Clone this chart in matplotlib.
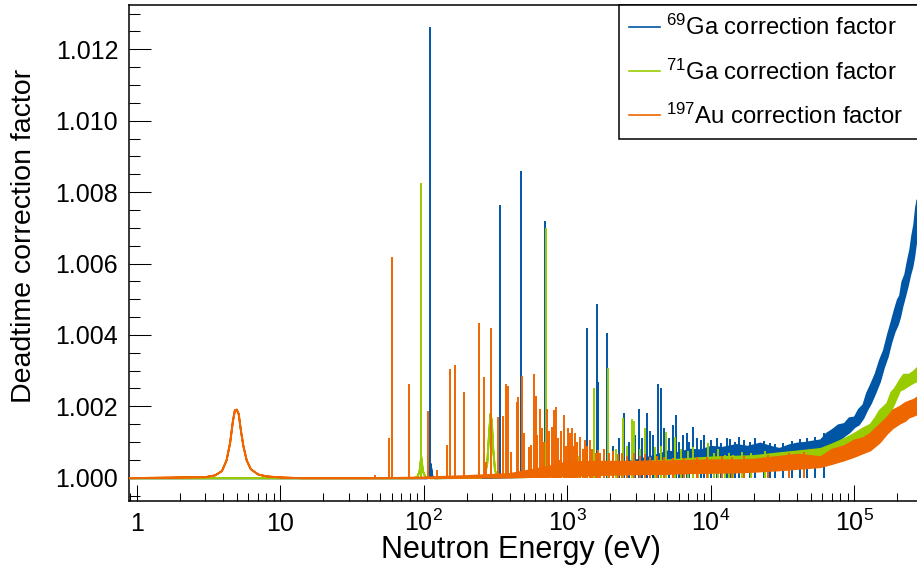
"""
Deadtime correction factor vs neutron energy for 69Ga, 71Ga and 197Au.
"""
import matplotlib
matplotlib.use("Agg")
import matplotlib.pyplot as plt
from matplotlib.lines import Line2D
from matplotlib.ticker import FixedLocator, MultipleLocator, FormatStrFormatter, LogLocator, NullFormatter

plt.rcParams["font.family"] = ["Liberation Sans", "DejaVu Sans"]
plt.rcParams["mathtext.fontset"] = "custom"
plt.rcParams["mathtext.rm"] = "Liberation Sans"
plt.rcParams["mathtext.it"] = "Liberation Sans:italic"
plt.rcParams["mathtext.bf"] = "Liberation Sans:bold"

# --- data (energy in eV) ---
# 69Ga: floor / noise band (lower and upper edge)
ga69_band_E = [0.88, 50, 105, 108, 110.8, 114, 118, 300, 600, 1000, 2000, 3000, 4000, 5000,
               6000, 7000, 8500, 1.0e4, 1.2e4, 1.5e4, 1.8e4, 2.2e4, 2.6e4, 3.0e4, 3.5e4,
               4.0e4, 4.5e4, 5.0e4, 5.8e4, 6.4e4, 7.0e4, 7.7e4, 8.5e4, 9.2e4, 1.0e5, 1.07e5,
               1.15e5, 1.22e5, 1.3e5, 1.4e5, 1.5e5, 1.6e5, 1.7e5, 1.8e5, 1.9e5, 2.0e5,
               2.07e5, 2.15e5, 2.25e5, 2.35e5, 2.44e5, 2.52e5, 2.6e5, 2.68e5, 2.75e5]
ga69_band_lo = [1.0, 1.0, 1.0, 1.00005, 1.0004, 1.00005, 1.0, 1.00001, 1.00004, 1.0001, 1.0002,
                1.0003, 1.00035, 1.0004, 1.00042, 1.00045, 1.00048, 1.0005, 1.00052, 1.00052,
                1.00055, 1.00055, 1.0005, 1.00048, 1.00052, 1.00058, 1.00062, 1.00068, 1.00078,
                1.00088, 1.00096, 1.00104, 1.00118, 1.00128, 1.00143, 1.0015, 1.00168, 1.0019,
                1.0021, 1.0024, 1.0027, 1.0031, 1.0034, 1.0038, 1.0041, 1.0043, 1.0045, 1.0048,
                1.0051, 1.0054, 1.0057, 1.0059, 1.0062, 1.0066, 1.0069]
ga69_band_hi = [1.0, 1.0, 1.0, 1.00005, 1.0004, 1.00005, 1.0, 1.00003, 1.0001, 1.0002, 1.0004,
                1.0005, 1.00062, 1.00075, 1.0007, 1.0008, 1.00078, 1.00088, 1.00085, 1.00093,
                1.00088, 1.00097, 1.00088, 1.00082, 1.00092, 1.00097, 1.00099, 1.00102, 1.00106,
                1.00125, 1.00135, 1.00148, 1.00152, 1.00168, 1.0017, 1.00192, 1.00205, 1.00238,
                1.00262, 1.00292, 1.0033, 1.00358, 1.004, 1.00435, 1.0047, 1.005, 1.0051, 1.0055,
                1.0057, 1.0061, 1.0064, 1.0068, 1.0071, 1.0076, 1.0078]
# 69Ga: narrow resonances (energy, peak value)
ga69_peak_E = [96, 110.8, 339, 477, 698, 1370, 1608, 1640, 1888, 2100, 2300, 2505, 2700, 2950,
               3155, 3300, 3590, 3750, 3950, 4300, 4490, 4730, 5100, 5440, 5710, 6030, 6400,
               6810, 7100, 7500, 8000, 8530, 9000, 9560, 10000, 11000, 11800, 12900, 13700,
               14800, 15800, 17200, 18800, 20500, 23500, 25900, 28000, 32000, 37000, 42000,
               47000, 53000, 62000]
ga69_peak_v = [1.0004, 1.01262, 1.00764, 1.0086, 1.0072, 1.00418, 1.00486, 1.00269, 1.00404,
               1.0009, 1.0011, 1.00182, 1.001, 1.0012, 1.00192, 1.0011, 1.0018, 1.0013, 1.0012,
               1.00262, 1.00252, 1.00138, 1.0011, 1.00148, 1.00176, 1.00101, 1.0012, 1.00124,
               1.001, 1.00141, 1.0011, 1.00106, 1.0012, 1.00098, 1.00105, 1.0011, 1.00098,
               1.0011, 1.00108, 1.001, 1.00115, 1.00106, 1.001, 1.00112, 1.00104, 1.00096,
               1.00095, 1.00098, 1.00103, 1.00108, 1.0011, 1.00114, 1.00125]

# 71Ga
ga71_band_E = [0.88, 85, 90, 93, 95.4, 98, 102, 110, 250, 265, 275, 283, 290, 296, 303, 312,
               330, 500, 1000, 2000, 5000, 1.0e4, 2.0e4, 3.0e4, 4.0e4, 5.8e4, 7.0e4, 8.5e4,
               1.0e5, 1.15e5, 1.29e5, 1.4e5, 1.5e5, 1.6e5, 1.69e5, 1.8e5, 1.9e5, 2.07e5,
               2.2e5, 2.4e5, 2.6e5, 2.75e5]
ga71_band_lo = [1.0, 1.0, 1.00005, 1.0002, 1.0006, 1.0002, 1.00003, 1.0, 1.00001, 1.0001,
                1.0004, 1.0012, 1.0018, 1.0016, 1.0008, 1.0002, 1.00003, 1.00003, 1.00006,
                1.0001, 1.00015, 1.0002, 1.00028, 1.00045, 1.0005, 1.00062, 1.0007, 1.0008,
                1.0009, 1.001, 1.0011, 1.0012, 1.0014, 1.0015, 1.0017, 1.0019, 1.0021, 1.00245,
                1.0025, 1.0026, 1.00268, 1.00272]
ga71_band_hi = [1.0, 1.0, 1.00005, 1.0002, 1.0006, 1.0002, 1.00003, 1.0, 1.00001, 1.0001,
                1.0004, 1.0012, 1.0018, 1.0016, 1.0008, 1.0002, 1.00003, 1.00008, 1.0003,
                1.0004, 1.0005, 1.00058, 1.00062, 1.0007, 1.00075, 1.00082, 1.00095, 1.0011,
                1.00125, 1.0014, 1.0015, 1.0017, 1.0019, 1.002, 1.0021, 1.0024, 1.0025,
                1.00275, 1.0029, 1.0029, 1.003, 1.0031]
ga71_peak_E = [95.4, 709, 1200, 1350, 1540, 1940, 2200, 2440, 2600, 2845, 2900, 3200, 3490,
               4100, 4500, 4890, 5650, 6200, 6900, 7500, 8200, 9630, 10500, 11320, 12600,
               13500, 14400, 16500, 19000, 24000]
ga71_peak_v = [1.00825, 1.00699, 1.0006, 1.0007, 1.0025, 1.00306, 1.0008, 1.00166, 1.0009,
               1.00164, 1.0016, 1.0008, 1.00138, 1.00085, 1.0009, 1.00129, 1.00115, 1.0008,
               1.00075, 1.00087, 1.00059, 1.00098, 1.0007, 1.0008, 1.00064, 1.0007, 1.00064,
               1.00072, 1.0007, 1.00075]

# 197Au (the broad 4.9 eV resonance is part of the band)
au_band_E = [0.88, 3.0, 3.5, 3.9, 4.2, 4.45, 4.65, 4.8, 4.95, 5.1, 5.3, 5.5, 5.8, 6.2, 7.0,
             8.0, 10, 14, 50, 100, 200, 400, 700, 1000, 1500, 2000, 3000, 5000, 7000, 1.0e4,
             1.5e4, 2.0e4, 3.0e4, 4.0e4, 5.8e4, 7.0e4, 8.5e4, 1.0e5, 1.15e5, 1.29e5, 1.5e5,
             1.69e5, 1.85e5, 2.07e5, 2.25e5, 2.4e5, 2.6e5, 2.75e5]
au_band_lo = [1.0, 1.00003, 1.00008, 1.0002, 1.0005, 1.001, 1.0016, 1.0019, 1.00192, 1.0018,
              1.0013, 1.0009, 1.0005, 1.00025, 1.0001, 1.00005, 1.00002, 1.0, 1.0, 1.0,
              1.00001, 1.00002, 1.00004, 1.00006, 1.00008, 1.0001, 1.00011, 1.00012, 1.00014,
              1.00015, 1.00016, 1.00018, 1.00022, 1.00026, 1.00031, 1.0004, 1.0005, 1.0006,
              1.0007, 1.00078, 1.001, 1.00125, 1.0014, 1.00153, 1.0016, 1.0017, 1.00175,
              1.0018]
au_band_hi = [1.0, 1.00003, 1.00008, 1.0002, 1.0005, 1.001, 1.0016, 1.0019, 1.00192, 1.0018,
              1.0013, 1.0009, 1.0005, 1.00025, 1.0001, 1.00005, 1.00002, 1.0, 1.0, 1.00002,
              1.00006, 1.00012, 1.0003, 1.00045, 1.00046, 1.00046, 1.00046, 1.00047, 1.00049,
              1.0005, 1.0005, 1.00052, 1.0006, 1.00066, 1.00059, 1.0008, 1.0009, 1.00106,
              1.00112, 1.00125, 1.0015, 1.0017, 1.0019, 1.002, 1.0021, 1.00215, 1.0022,
              1.00227]
au_peak_E = [45.8, 57.5, 60.0, 78.8, 106.8, 123.4, 144.8, 152, 165.5, 191, 243, 263.6, 270,
             294.9, 331.6, 359, 372, 385.6, 405, 445.6, 454.8, 482.6, 498.5, 540, 557, 585,
             607, 620, 647, 670, 690, 721, 750, 781, 810, 837, 860, 878, 900, 947, 980, 1009,
             1030, 1050, 1086, 1110, 1135, 1180, 1230, 1280, 1333, 1380, 1444, 1500, 1580,
             1650, 1700, 1800, 1950, 2100, 2250, 2400, 2600, 2900, 3200, 3500, 3800, 4200,
             4700, 5500, 6500, 8000, 9500, 12000, 14000, 17000, 25000, 35000, 45000]
au_peak_v = [1.00008, 1.0011, 1.00619, 1.00262, 1.00188, 1.00022, 1.00092, 1.00304, 1.00316,
             1.00241, 1.00432, 1.00283, 1.00045, 1.0042, 1.00171, 1.00173, 1.00262, 1.00257,
             1.00071, 1.00213, 1.00227, 1.00285, 1.00124, 1.00087, 1.00092, 1.0029, 1.00229,
             1.0012, 1.00192, 1.0014, 1.001, 1.00192, 1.0013, 1.00143, 1.0019, 1.00197,
             1.0011, 1.0005, 1.0013, 1.00176, 1.0009, 1.00138, 1.001, 1.00124, 1.00138,
             1.0009, 1.00124, 1.001, 1.00115, 1.0008, 1.00106, 1.0009, 1.00106, 1.0008,
             1.0007, 1.00078, 1.0007, 1.0008, 1.00068, 1.00075, 1.00066, 1.0007, 1.00062,
             1.00068, 1.0006, 1.00065, 1.00058, 1.0006, 1.00058, 1.00056, 1.00056, 1.00058,
             1.00058, 1.0006, 1.00058, 1.0006, 1.00064, 1.00068, 1.00072]

x_major = [1, 10, 100, 1e3, 1e4, 1e5]
x_labels = ["1", "10", r"$\mathregular{10^{2}}$", r"$\mathregular{10^{3}}$",
            r"$\mathregular{10^{4}}$", r"$\mathregular{10^{5}}$"]

series = [
    ("#0055a5", r"$\mathregular{^{69}}$Ga correction factor",
     ga69_band_E, ga69_band_lo, ga69_band_hi, ga69_peak_E, ga69_peak_v),
    ("#99cc00", r"$\mathregular{^{71}}$Ga correction factor",
     ga71_band_E, ga71_band_lo, ga71_band_hi, ga71_peak_E, ga71_peak_v),
    ("#ee6600", r"$\mathregular{^{197}}$Au correction factor",
     au_band_E, au_band_lo, au_band_hi, au_peak_E, au_peak_v),
]

W, H = 917, 578
fig = plt.figure(figsize=(W / 100, H / 100), dpi=100)
ax = fig.add_axes([129.3 / W, 77 / H, (W - 129.3) / W, 496.3 / H])

handles = []
for k, (color, label, bE, blo, bhi, pE, pv) in enumerate(series):
    z = 2 + 2 * k
    ax.fill_between(bE, blo, bhi, facecolor=color, edgecolor=color, linewidth=1.4, zorder=z)
    ax.vlines(pE, 1.0, pv, color=color, linewidth=1.4, zorder=z + 1)
    handles.append(Line2D([], [], color=color, linewidth=1.2, label=label))

ax.set_xscale("log")
ax.set_xlim(0.889, 2.74e5)
ax.set_ylim(0.999347, 1.01325)

ax.xaxis.set_major_locator(FixedLocator(x_major))
ax.set_xticklabels(x_labels)
ax.xaxis.set_minor_locator(LogLocator(base=10, subs=range(2, 10), numticks=20))
ax.xaxis.set_minor_formatter(NullFormatter())
ax.yaxis.set_major_locator(MultipleLocator(0.002))
ax.yaxis.set_minor_locator(MultipleLocator(0.0005))
ax.yaxis.set_major_formatter(FormatStrFormatter("%.3f"))

ax.tick_params(axis="both", which="both", direction="in", width=0.75, colors="black",
               labelsize=18, top=False, right=False)
ax.tick_params(axis="x", which="major", length=11.5, pad=21.5)
ax.tick_params(axis="x", which="minor", length=5.8)
ax.tick_params(axis="y", which="major", length=15.8, pad=8)
ax.tick_params(axis="y", which="minor", length=7.9)
for lab in ax.get_xticklabels():
    lab.set_verticalalignment("baseline")

for side in ("left", "bottom", "top"):
    ax.spines[side].set_linewidth(1.1)
ax.spines["right"].set_visible(False)

fig.text(521 / W, 1 - 550 / H, "Neutron Energy (eV)", fontsize=22, ha="center", va="center")
fig.text(24 / W, 1 - 236 / H, "Deadtime correction factor", fontsize=20.5, rotation=90,
         ha="center", va="center")

leg = ax.legend(handles=handles, loc="upper left", mode="expand",
                bbox_to_anchor=(619 / W, 1 - 137 / H, 0.36, 132 / H),
                bbox_transform=fig.transFigure, borderaxespad=0, fontsize=17.2,
                handlelength=1.3, handletextpad=0.25, borderpad=0.42, labelspacing=0.8,
                fancybox=False, framealpha=1, edgecolor="black")
leg.get_frame().set_linewidth(1.1)
leg.set_zorder(20)

fig.savefig("out.png", dpi=100)
